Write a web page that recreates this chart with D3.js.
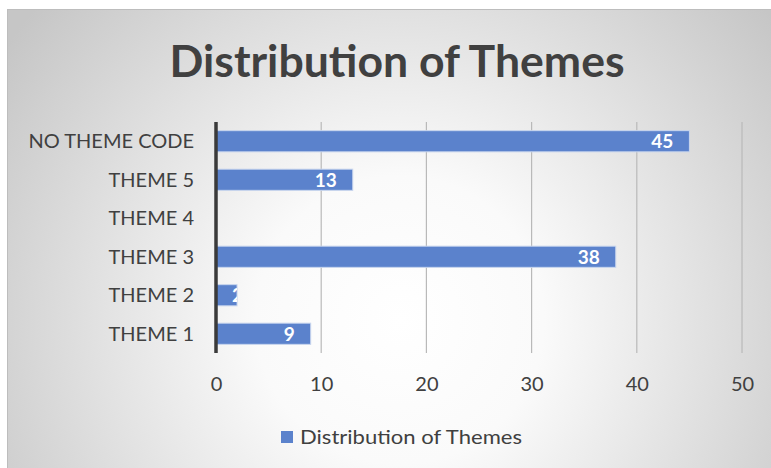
<!DOCTYPE html>
<html>
<head>
<meta charset="utf-8">
<script src="https://cdn.jsdelivr.net/npm/d3@7"></script>
<style>
  html, body { margin: 0; padding: 0; background: #ffffff; }
  svg { display: block; }
</style>
</head>
<body>
<script>
// Chart data
const categories = ["THEME 1", "THEME 2", "THEME 3", "THEME 4", "THEME 5", "NO THEME CODE"];
const values = [9, 2, 38, 0, 13, 45];
const xTicks = [0, 10, 20, 30, 40, 50];
const chartTitle = "Distribution of Themes";
const seriesName = "Distribution of Themes";

const W = 771, H = 468;
const barColor = "#5b82cc";
const font = "Lato, 'Open Sans', sans-serif";

const svg = d3.select("body").append("svg")
  .attr("width", W).attr("height", H);

const defs = svg.append("defs");
const grad = defs.append("radialGradient")
  .attr("id", "bg").attr("gradientUnits", "userSpaceOnUse")
  .attr("cx", 400).attr("cy", 320).attr("r", 480);
grad.append("stop").attr("offset", "0").attr("stop-color", "#ffffff");
grad.append("stop").attr("offset", "0.3").attr("stop-color", "#fafafa");
grad.append("stop").attr("offset", "1").attr("stop-color", "#c6c6c6");

// Chart area background with a thin frame
svg.append("rect")
  .attr("x", 7.5).attr("y", 9.5).attr("width", W).attr("height", H)
  .attr("fill", "url(#bg)").attr("stroke", "#bdbdbd").attr("stroke-width", 1);

// Title
svg.append("text")
  .attr("x", 397).attr("y", 77)
  .attr("text-anchor", "middle")
  .attr("font-family", font).attr("font-weight", 700)
  .attr("font-size", 44).attr("fill", "#404040")
  .attr("textLength", 455).attr("lengthAdjust", "spacingAndGlyphs")
  .text(chartTitle);

// Scales
const x = d3.scaleLinear().domain([0, 50]).range([216, 742]);
const y = d3.scaleBand().domain(categories.slice().reverse())
  .range([122, 353]).paddingInner(0.45).paddingOuter(0.225);

// Vertical gridlines
svg.append("g").selectAll("line")
  .data(xTicks.filter(d => d > 0))
  .join("line")
  .attr("x1", d => x(d)).attr("x2", d => x(d))
  .attr("y1", 122).attr("y2", 353)
  .attr("stroke", "#b9b9b9").attr("stroke-width", 1.2);

// X axis tick labels
const xAxis = d3.axisBottom(x).tickValues(xTicks).tickSize(0).tickPadding(0);
const gx = svg.append("g").attr("transform", "translate(0,377)").call(xAxis);
gx.select(".domain").remove();
gx.selectAll("text")
  .attr("font-family", font).attr("font-size", 20).attr("fill", "#404040");

// Y axis category labels
const yAxis = d3.axisLeft(y).tickSize(0).tickPadding(0);
const gy = svg.append("g").attr("transform", "translate(194,0)").call(yAxis);
gy.select(".domain").remove();
gy.selectAll("text")
  .attr("font-family", font).attr("font-size", 20).attr("fill", "#404040")
  .attr("dy", "0.36em");

// Bars
const bars = svg.append("g");
categories.forEach((c, i) => {
  const v = values[i];
  if (v <= 0) return;
  const id = "clip" + i;
  defs.append("clipPath").attr("id", id)
    .append("rect")
    .attr("x", x(0)).attr("y", y(c))
    .attr("width", x(v) - x(0)).attr("height", y.bandwidth());
  bars.append("rect")
    .attr("x", x(0)).attr("y", y(c))
    .attr("width", x(v) - x(0)).attr("height", y.bandwidth())
    .attr("fill", barColor).attr("stroke", "#c9d6ee").attr("stroke-width", 1);
  const wide = (x(v) - x(0)) > 40;
  bars.append("text")
    .attr("clip-path", `url(#${id})`)
    .attr("x", wide ? x(v) - 16 : x(v) - 5)
    .attr("y", y(c) + y.bandwidth() / 2)
    .attr("dy", "0.36em")
    .attr("text-anchor", wide ? "end" : "start")
    .attr("font-family", font).attr("font-weight", 700)
    .attr("font-size", 19).attr("fill", "#ffffff")
    .text(v);
});

// Category axis line
svg.append("line")
  .attr("x1", x(0)).attr("x2", x(0))
  .attr("y1", 122).attr("y2", 353)
  .attr("stroke", "#3a3a3a").attr("stroke-width", 3.5);

// Legend
const lg = svg.append("g");
lg.append("rect")
  .attr("x", 281).attr("y", 431).attr("width", 12).attr("height", 12)
  .attr("fill", barColor);
lg.append("text")
  .attr("x", 300).attr("y", 437).attr("dy", "0.36em")
  .attr("font-family", font).attr("font-size", 20).attr("fill", "#404040")
  .attr("textLength", 222).attr("lengthAdjust", "spacingAndGlyphs")
  .text(seriesName);
</script>
</body>
</html>
